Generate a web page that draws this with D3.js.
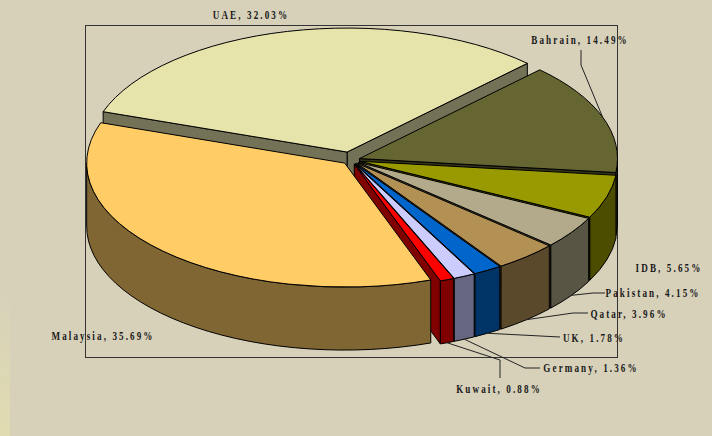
<!DOCTYPE html>
<html>
<head>
<meta charset="utf-8">
<script src="https://cdn.jsdelivr.net/npm/d3@7"></script>
<style>
  body { margin: 0; background: #d7d1ba; }
  svg { display: block; }
</style>
</head>
<body>
<div id="chart"></div>
<script>
// --- data ---
const countries = ["UAE", "Bahrain", "IDB", "Pakistan", "Qatar", "UK", "Germany", "Kuwait", "Malaysia"];
const shares = [32.03, 14.49, 5.65, 4.15, 3.96, 1.78, 1.36, 0.88, 35.69];
const topColors = ["#e6e3ab", "#666633", "#999900", "#b2aa8a", "#b39155", "#0066cc", "#ccccff", "#ff0000", "#ffcc66"];

const width = 712, height = 436;
const cx = 351, cy = 160, rx = 258, ry = 124, depth = 63;
const k = ry / rx;
const startA = -71 * Math.PI / 180;
const explode = { UAE: 17 };
const explodeDefault = 9;

// label layout (centre x, baseline y) and leader lines
const labelPos = {
  UAE: [251, 19], Bahrain: [580, 44], IDB: [669, 272], Pakistan: [653, 297],
  Qatar: [629, 318], UK: [594, 342], Germany: [591, 372], Kuwait: [499, 393], Malaysia: [103, 340]
};
const leaders = {
  Bahrain: { from: "top", pts: [[581, 65], [581, 50]] },
  Pakistan: { from: "bottom", pts: [[593, 293], [605, 293]] },
  Qatar: { from: "bottom", pts: [[573, 313], [588, 313]] },
  UK: { from: "bottom", pts: [[560, 337]] },
  Germany: { from: "bottom", pts: [[525, 368], [540, 368]] },
  Kuwait: { from: "bottom", pts: [[500, 360], [500, 378]] }
};

const data = countries.map((c, i) => ({ name: c, value: shares[i], color: topColors[i] }));

const svg = d3.select("#chart").append("svg")
  .attr("width", width)
  .attr("height", height);

// faint yellow strip on the left edge
const grad = svg.append("defs").append("linearGradient")
  .attr("id", "strip").attr("x1", 0).attr("y1", 0).attr("x2", 0).attr("y2", 1);
grad.append("stop").attr("offset", "0%").attr("stop-color", "#d7d1ba");
grad.append("stop").attr("offset", "100%").attr("stop-color", "#e0dcb0");
svg.append("rect").attr("x", 0).attr("y", 290).attr("width", 10).attr("height", 146).attr("fill", "url(#strip)");

// plot area frame
svg.append("rect")
  .attr("x", 85.5).attr("y", 25.5)
  .attr("width", 532).attr("height", 332)
  .attr("fill", "none")
  .attr("stroke", "#333")
  .attr("stroke-width", 1);

const pie = d3.pie()
  .sort(null)
  .value(d => d.value)
  .startAngle(startA)
  .endAngle(startA + 2 * Math.PI);

const arcs = pie(data).map(d => {
  const m = (d.startAngle + d.endAngle) / 2;
  const e = explode[d.data.name] ?? explodeDefault;
  d.ox = e * Math.sin(m);
  d.oy = -e * k * Math.cos(m);
  d.mid = m;
  return d;
});

const pt = (d, a, z = 0) => [cx + d.ox + rx * Math.sin(a), cy + d.oy - ry * Math.cos(a) + z];
const apex = (d, z = 0) => [cx + d.ox, cy + d.oy + z];
const f = p => `${p[0].toFixed(2)},${p[1].toFixed(2)}`;

const darker = c => d3.rgb(c).darker(1.94).formatHex();

// radial faces
const faces = [];
arcs.forEach(d => {
  if (Math.sin(d.startAngle) < 0) faces.push({ d, a: d.startAngle });
  if (Math.sin(d.endAngle) > 0) faces.push({ d, a: d.endAngle });
});
faces.forEach(o => {
  o.key = cy + o.d.oy - ry * 0.5 * Math.cos(o.a);
  const a = o.a, d = o.d;
  o.path = `M${f(apex(d))}L${f(pt(d, a))}L${f(pt(d, a, depth))}L${f(apex(d, depth))}Z`;
});
faces.sort((a, b) => a.key - b.key);

// outer walls (front half only)
const walls = [];
arcs.forEach(d => {
  for (let n = -1; n <= 1; n++) {
    const lo = Math.PI / 2 + 2 * Math.PI * n, hi = 3 * Math.PI / 2 + 2 * Math.PI * n;
    const b0 = Math.max(d.startAngle, lo), b1 = Math.min(d.endAngle, hi);
    if (b1 > b0) {
      const path = `M${f(pt(d, b0))}A${rx},${ry} 0 0 1 ${f(pt(d, b1))}` +
        `L${f(pt(d, b1, depth))}A${rx},${ry} 0 0 0 ${f(pt(d, b0, depth))}Z`;
      walls.push({ d, path, key: cy + d.oy - ry * Math.cos((b0 + b1) / 2) });
    }
  }
});
walls.sort((a, b) => a.key - b.key);

const g = svg.append("g");

g.selectAll("path.face")
  .data(faces)
  .join("path")
  .attr("class", "face")
  .attr("d", o => o.path)
  .attr("fill", o => darker(o.d.data.color))
  .attr("stroke", "#000")
  .attr("stroke-width", 1)
  .attr("stroke-linejoin", "round");

g.selectAll("path.wall")
  .data(walls)
  .join("path")
  .attr("class", "wall")
  .attr("d", o => o.path)
  .attr("fill", o => darker(o.d.data.color))
  .attr("stroke", "#000")
  .attr("stroke-width", 1)
  .attr("stroke-linejoin", "round");

g.selectAll("path.top")
  .data(arcs)
  .join("path")
  .attr("class", "top")
  .attr("d", d => {
    const large = d.endAngle - d.startAngle > Math.PI ? 1 : 0;
    return `M${f(apex(d))}L${f(pt(d, d.startAngle))}A${rx},${ry} 0 ${large} 1 ${f(pt(d, d.endAngle))}Z`;
  })
  .attr("fill", d => d.data.color)
  .attr("stroke", "#000")
  .attr("stroke-width", 1)
  .attr("stroke-linejoin", "round");

// leader lines
const line = d3.line();
arcs.forEach(d => {
  const L = leaders[d.data.name];
  if (!L) return;
  const start = L.from === "top" ? pt(d, d.mid) : pt(d, d.mid, depth);
  svg.append("path")
    .attr("d", line([start, ...L.pts]))
    .attr("fill", "none")
    .attr("stroke", "#222")
    .attr("stroke-width", 1);
});

// labels
arcs.forEach(d => {
  const [x, y] = labelPos[d.data.name];
  svg.append("text")
    .attr("transform", `translate(${x},${y}) scale(0.7,1)`)
    .attr("text-anchor", "middle")
    .attr("font-family", "'Liberation Serif', 'Times New Roman', serif")
    .attr("font-weight", "bold")
    .attr("font-size", "13px")
    .attr("letter-spacing", "3px")
    .attr("fill", "#1a1a1a")
    .text(`${d.data.name}, ${d.data.value.toFixed(2)}%`);
});
</script>
</body>
</html>
